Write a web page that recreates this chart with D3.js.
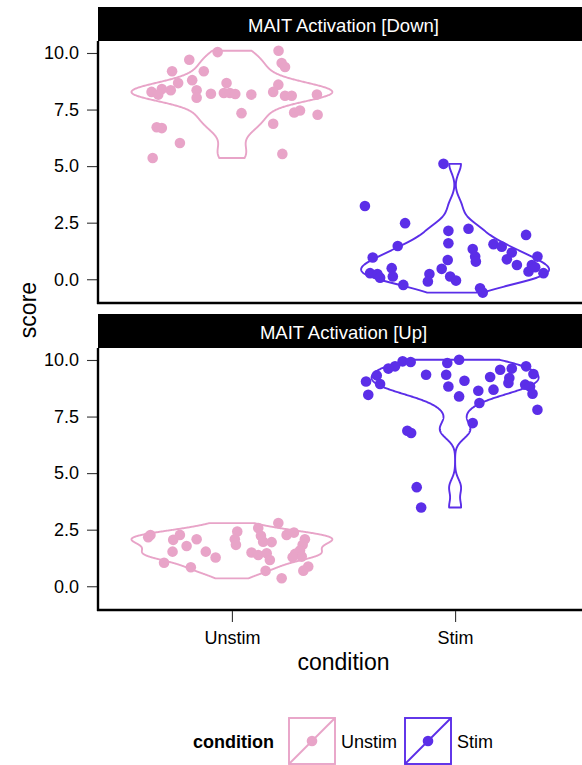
<!DOCTYPE html>
<html>
<head>
<meta charset="utf-8">
<script src="https://cdn.jsdelivr.net/npm/d3@7"></script>
<style>
  body { margin: 0; background: #fff; }
  svg { display: block; font-family: "Liberation Sans", Arial, sans-serif; }
</style>
</head>
<body>
<svg id="chart" width="582" height="765"></svg>
<script>
// categories and labels
const conditions = ["Unstim", "Stim"];
const panelTitles = ["MAIT Activation [Down]", "MAIT Activation [Up]"];
const yTicks = [0, 2.5, 5, 7.5, 10];
const colors = { Unstim: "#E8A4C8", Stim: "#5B2EE8" };

// MAIT Activation [Down]
const downUnstimScore = [10.04, 10.10, 9.56, 9.38, 9.70, 9.19, 9.19, 8.80, 8.67, 8.41, 8.28, 8.16, 8.35, 8.35, 8.02, 8.20, 8.67, 8.23, 8.23, 8.19, 8.16, 8.60, 8.28, 8.11, 8.11, 8.16, 7.34, 7.37, 7.46, 7.27, 6.87, 6.72, 6.68, 6.02, 5.36, 5.54];
const downUnstimJitter = [-0.064, 0.209, 0.223, 0.238, -0.191, -0.268, -0.126, -0.178, -0.241, -0.314, -0.360, -0.330, -0.274, -0.158, -0.158, -0.094, -0.024, -0.036, -0.009, 0.015, 0.087, 0.208, 0.185, 0.238, 0.268, 0.381, 0.043, 0.279, 0.305, 0.384, 0.185, -0.337, -0.314, -0.233, -0.355, 0.226];
const downStimScore = [5.10, 3.24, 2.48, 2.14, 2.23, 1.96, 1.59, 1.47, 1.34, 1.00, 0.78, 1.55, 1.44, 1.18, 0.88, 0.63, 1.00, 0.63, 0.34, 0.53, 0.27, 0.96, 0.85, 0.46, 0.49, 0.12, 0.27, 0.23, 0.07, 0.23, -0.10, 0.12, -0.06, -0.25, -0.40, -0.59];
const downStimJitter = [-0.052, -0.404, -0.224, -0.030, 0.060, 0.318, -0.030, -0.257, 0.079, 0.090, 0.093, 0.172, 0.209, 0.254, 0.232, 0.277, 0.369, 0.344, 0.329, 0.359, 0.396, -0.369, -0.033, -0.060, -0.284, -0.279, -0.381, -0.348, -0.336, -0.115, -0.122, -0.022, 0.004, -0.232, 0.112, 0.124];

// MAIT Activation [Up]
const upUnstimScore = [2.17, 2.26, 2.05, 2.27, 2.08, 1.78, 1.53, 1.04, 0.84, 1.53, 1.27, 2.42, 2.08, 1.83, 2.57, 2.23, 1.97, 1.95, 2.79, 2.27, 2.37, 1.49, 1.38, 1.46, 1.16, 0.68, 0.35, 2.08, 1.83, 1.58, 1.43, 1.31, 1.28, 0.87, 0.69];
const upUnstimJitter = [-0.375, -0.365, -0.263, -0.233, -0.158, -0.203, -0.266, -0.304, -0.184, -0.117, -0.073, 0.024, 0.013, 0.018, 0.118, 0.130, 0.140, 0.178, 0.208, 0.245, 0.278, 0.088, 0.118, 0.156, 0.170, 0.151, 0.223, 0.327, 0.317, 0.305, 0.283, 0.313, 0.272, 0.342, 0.320];
const upStimScore = [9.94, 9.91, 9.72, 9.62, 9.32, 9.05, 8.94, 8.46, 9.35, 9.87, 10.01, 9.35, 8.83, 9.08, 8.39, 8.64, 8.10, 9.25, 8.69, 9.57, 9.62, 9.20, 8.98, 9.72, 9.38, 8.91, 8.83, 8.51, 7.80, 7.21, 6.87, 6.77, 4.38, 3.48];
const upStimJitter = [-0.235, -0.199, -0.269, -0.299, -0.351, -0.399, -0.336, -0.389, -0.130, -0.035, 0.018, -0.040, -0.030, 0.042, 0.018, 0.104, 0.109, 0.157, 0.172, 0.202, 0.254, 0.243, 0.239, 0.318, 0.351, 0.314, 0.336, 0.347, 0.369, 0.079, -0.214, -0.197, -0.172, -0.152];

const panels = [
  { title: panelTitles[0], groups: [
    { cond: "Unstim", score: downUnstimScore, jitter: downUnstimJitter },
    { cond: "Stim", score: downStimScore, jitter: downStimJitter } ] },
  { title: panelTitles[1], groups: [
    { cond: "Unstim", score: upUnstimScore, jitter: upUnstimJitter },
    { cond: "Stim", score: upStimScore, jitter: upStimJitter } ] }
];

const svg = d3.select("#chart");
const left = 98, right = 589;
const stripH = 34, plotH = 262;
const panelTops = [7, 314];

// discrete x as positions 1,2 with ggplot's 0.6 expansion
const x = d3.scaleLinear().domain([0.4, 2.6]).range([left, right]);
const xPos = c => conditions.indexOf(c) + 1;

// gaussian kde, bandwidth like R's bw.nrd0, trimmed to data range
function kde(values) {
  const v = values.slice().sort(d3.ascending);
  const n = v.length;
  const sd = d3.deviation(v);
  const iqr = d3.quantile(v, 0.75) - d3.quantile(v, 0.25);
  let lo = Math.min(sd, iqr / 1.34);
  if (!(lo > 0)) lo = sd || 1;
  const bw = 0.9 * lo * Math.pow(n, -0.2);
  const ys = d3.range(512).map(i => v[0] + (v[n - 1] - v[0]) * i / 511);
  return ys.map(y => {
    let s = 0;
    for (const d of v) { const u = (y - d) / bw; s += Math.exp(-0.5 * u * u); }
    return { y: y, density: s / (n * bw * Math.sqrt(2 * Math.PI)) };
  });
}

panels.forEach((p, pi) => {
  const top = panelTops[pi];
  const plotTop = top + stripH, plotBottom = plotTop + plotH;
  const y = d3.scaleLinear().domain([-1.05, 10.53]).range([plotBottom, plotTop]);

  // strip
  svg.append("rect").attr("x", left).attr("y", top)
    .attr("width", right - left).attr("height", stripH).attr("fill", "#000");
  svg.append("text").attr("x", (left + right) / 2).attr("y", top + 24.5)
    .attr("text-anchor", "middle").attr("fill", "#fff").style("font-size", "18.5px")
    .text(p.title);

  // violins, scaled by area within panel
  const dens = p.groups.map(g => kde(g.score));
  const maxD = d3.max(dens, d => d3.max(d, e => e.density));
  const g = svg.append("g");
  p.groups.forEach((grp, gi) => {
    const cx = xPos(grp.cond);
    const d = dens[gi];
    const pts = d.map(e => [x(cx + 0.45 * e.density / maxD), y(e.y)])
      .concat(d.slice().reverse().map(e => [x(cx - 0.45 * e.density / maxD), y(e.y)]));
    g.append("path").attr("d", d3.line()(pts) + "Z")
      .attr("fill", "#fff").attr("stroke", colors[grp.cond]).attr("stroke-width", 1.9)
      .attr("stroke-linejoin", "round");
  });

  // jittered points
  p.groups.forEach(grp => {
    g.selectAll(null).data(grp.score).enter().append("circle")
      .attr("cx", (s, i) => x(xPos(grp.cond) + grp.jitter[i]))
      .attr("cy", s => y(s))
      .attr("r", 5.3)
      .attr("fill", colors[grp.cond]);
  });

  // y axis
  const ya = svg.append("g").attr("transform", `translate(${left},0)`)
    .call(d3.axisLeft(y).tickValues(yTicks).tickFormat(d3.format(".1f")).tickSize(11).tickSizeOuter(0));
  ya.select(".domain").remove();
  ya.selectAll(".tick line").attr("stroke", "#333").attr("stroke-width", 1.1);
  ya.selectAll(".tick text").attr("fill", "#000").style("font-size", "18px")
    .attr("x", -19).attr("font-family", "Liberation Sans, Arial, sans-serif");

  // axis lines
  svg.append("line").attr("x1", left).attr("x2", left).attr("y1", plotTop).attr("y2", plotBottom + 1)
    .attr("stroke", "#000").attr("stroke-width", 2.4);
  svg.append("line").attr("x1", left - 1).attr("x2", right).attr("y1", plotBottom).attr("y2", plotBottom)
    .attr("stroke", "#000").attr("stroke-width", 2.4);

  if (pi === panels.length - 1) {
    const xa = svg.append("g").attr("transform", `translate(0,${plotBottom + 1})`)
      .call(d3.axisBottom(x).tickValues([1, 2]).tickFormat(d => conditions[d - 1]).tickSize(11).tickSizeOuter(0));
    xa.select(".domain").remove();
    xa.selectAll(".tick line").attr("stroke", "#333").attr("stroke-width", 1.1);
    xa.selectAll(".tick text").attr("fill", "#000").style("font-size", "18px")
      .attr("y", 20).attr("font-family", "Liberation Sans, Arial, sans-serif");
  }
});

// axis titles
svg.append("text").attr("x", (left + right) / 2).attr("y", 670).attr("text-anchor", "middle")
  .style("font-size", "23px").text("condition");
svg.append("text").attr("transform", "translate(36,310) rotate(-90)").attr("text-anchor", "middle")
  .style("font-size", "23px").text("score");

// legend
const legend = svg.append("g");
legend.append("text").attr("x", 193).attr("y", 748).style("font-size", "18px")
  .style("font-weight", "bold").text("condition");
const keyX = [289, 405], keyLabelX = [341, 457], keyTop = 718, keySize = 46;
conditions.forEach((c, i) => {
  const kx = keyX[i];
  legend.append("rect").attr("x", kx).attr("y", keyTop).attr("width", keySize).attr("height", keySize)
    .attr("fill", "#fff").attr("stroke", colors[c]).attr("stroke-width", 1.9);
  legend.append("line").attr("x1", kx).attr("y1", keyTop + keySize).attr("x2", kx + keySize).attr("y2", keyTop)
    .attr("stroke", colors[c]).attr("stroke-width", 1.9);
  legend.append("circle").attr("cx", kx + keySize / 2).attr("cy", keyTop + keySize / 2).attr("r", 5.3)
    .attr("fill", colors[c]);
  legend.append("text").attr("x", keyLabelX[i]).attr("y", 748).style("font-size", "18px").text(c);
});
</script>
</body>
</html>
